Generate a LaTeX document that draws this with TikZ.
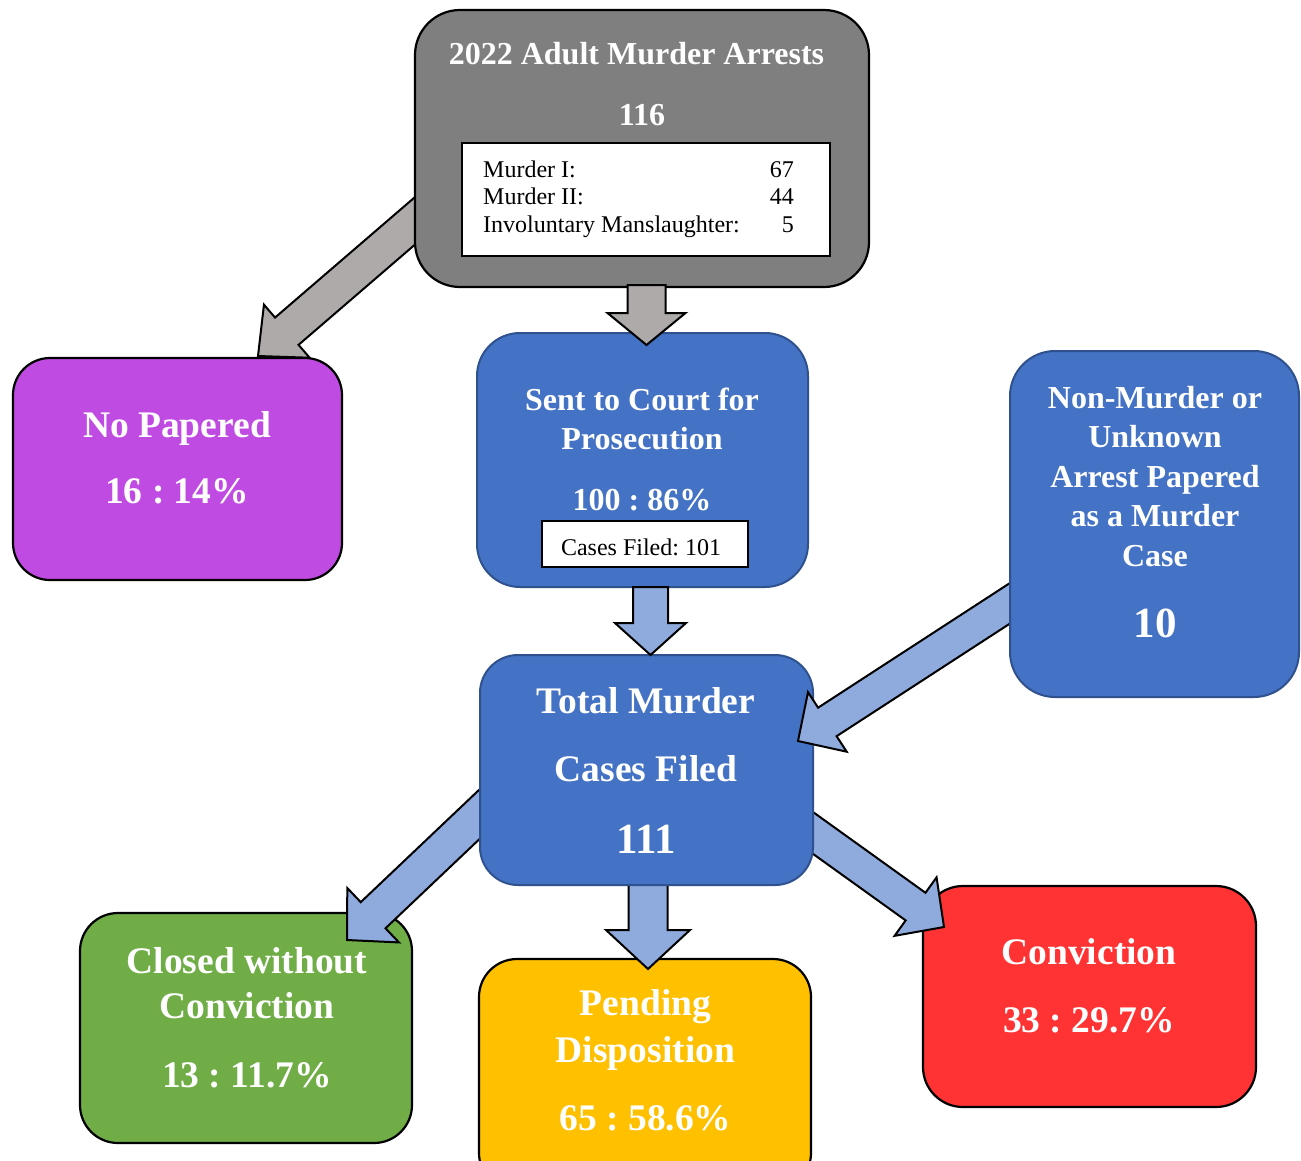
\documentclass[tikz,border=0pt]{standalone}
\usepackage{fontspec}
\setmainfont{Liberation Serif}
\usetikzlibrary{calc}
\definecolor{topgray}{HTML}{7F7F7F}
\definecolor{arrgray}{HTML}{AEAAAA}
\definecolor{npurple}{HTML}{C04BE2}
\definecolor{mblue}{HTML}{4472C4}
\definecolor{bborder}{HTML}{2F528F}
\definecolor{arrblue}{HTML}{8FAADC}
\definecolor{cgreen}{HTML}{70AD47}
\definecolor{pyellow}{HTML}{FFC000}
\definecolor{cred}{HTML}{FF3333}
\frenchspacing
\newcommand{\myfs}[1]{\fontsize{#1pt}{#1pt}\selectfont}
\newcommand{\blockarrow}[7]{%
  \coordinate (#1-h) at ($(#3)!#6!(#2)$);
  \draw[arrowline, fill=#7] ($(#2)!#4!90:(#3)$) -- ($(#1-h)!#4!90:(#3)$) -- ($(#1-h)!#5!90:(#3)$) -- (#3) -- ($(#1-h)!#5!-90:(#3)$) -- ($(#1-h)!#4!-90:(#3)$) -- ($(#2)!#4!-90:(#3)$) -- cycle;
}
\begin{document}
\begin{tikzpicture}[x=1pt,y=-1pt,
  roundbox/.style={rectangle, rounded corners=#1, inner sep=0pt, outer sep=0pt, line width=2.2pt, draw=black},
  bluebox/.style={rectangle, rounded corners=#1, inner sep=0pt, outer sep=0pt, line width=2pt, draw=bborder, fill=mblue},
  arrowline/.style={draw=black, line width=2pt, line join=miter},
  lbl/.style={text=white, anchor=base, inner sep=0pt},
  plain/.style={text=black, inner sep=0pt, font=\myfs{24}}]
\clip (0,0) rectangle (1301,1160);
\fill[white] (0,0) rectangle (1301,1160);

% ---- target boxes ----
\node[roundbox=37pt, fill=npurple, minimum width=329pt, minimum height=222pt] (nop) at (177.5,469) {};
\node[lbl, font=\bfseries\myfs{37.5}] (nop1) at (177,437) {No Papered};
\node[lbl, font=\bfseries\myfs{37.5}] (nop2) at (177,503) {16 : 14\%};

\node[roundbox=38pt, fill=cgreen, minimum width=332pt, minimum height=230pt] (closed) at (246,1028) {};
\node[lbl, font=\bfseries\myfs{37.5}] (cl1) at (247,973) {Closed without};
\node[lbl, font=\bfseries\myfs{37.5}] (cl2) at (247,1018) {Conviction};
\node[lbl, font=\bfseries\myfs{37.5}] (cl3) at (247,1087) {13 : 11.7\%};

\node[roundbox=38pt, fill=pyellow, minimum width=332pt, minimum height=232pt] (pend) at (645,1075) {};
\node[lbl, font=\bfseries\myfs{37.5}] (pe1) at (645.5,1015) {Pending};
\node[lbl, font=\bfseries\myfs{37.5}] (pe2) at (645.5,1062) {Disposition};
\node[lbl, font=\bfseries\myfs{37.5}] (pe3) at (645.5,1130) {65 : 58.6\%};

\node[roundbox=40pt, fill=cred, minimum width=333pt, minimum height=221pt] (conv) at (1089.5,996.5) {};
\node[lbl, font=\bfseries\myfs{37.5}] (cv1) at (1089,964) {Conviction};
\node[lbl, font=\bfseries\myfs{37.5}] (cv2) at (1089,1032) {33 : 29.7\%};

\node[bluebox=43pt, minimum width=331pt, minimum height=254pt] (sent) at (642.5,460) {};
\node[lbl, font=\bfseries\myfs{32}] (se1) at (642,410) {Sent to Court for};
\node[lbl, font=\bfseries\myfs{32}] (se2) at (642,449) {Prosecution};
\node[lbl, font=\bfseries\myfs{32}] (se3) at (642,510) {100 : 86\%};
\node[draw=black, line width=1.6pt, fill=white, minimum width=206pt, minimum height=46pt, inner sep=0pt] (cases) at (645,544) {};
\node[plain, anchor=base] (casest) at (641,555) {Cases Filed: 101};

% ---- arrows starting under their source boxes ----
\coordinate (a1s) at (438,201); \coordinate (a1e) at (258,356);
\coordinate (a5s) at (504,791); \coordinate (a5e) at (347,940);
\coordinate (a6s) at (648,870); \coordinate (a6e) at (648,969);
\coordinate (a7s) at (788,815); \coordinate (a7e) at (944,927);
\blockarrow{a1}{a1s}{a1e}{18pt}{35pt}{38pt}{arrgray}
\blockarrow{a5}{a5s}{a5e}{18pt}{37.5pt}{36pt}{arrblue}
\blockarrow{a6}{a6s}{a6e}{19.5pt}{42pt}{39pt}{arrblue}
\blockarrow{a7}{a7s}{a7e}{17pt}{36pt}{35pt}{arrblue}

% ---- top box ----
\node[roundbox=45pt, fill=topgray, minimum width=454pt, minimum height=277pt] (top) at (642,148.5) {};
\node[lbl, font=\bfseries\myfs{32}] (tp1) at (636.5,64) {2022 Adult Murder Arrests};
\node[lbl, font=\bfseries\myfs{32}] (tp2) at (642,125) {116};
\node[draw=black, line width=1.6pt, fill=white, minimum width=368pt, minimum height=113pt, inner sep=0pt] (list) at (646,199.5) {};
\node[plain, anchor=base west] (l1) at (483,177) {Murder I:};
\node[plain, anchor=base west] (l2) at (483,204.5) {Murder II:};
\node[plain, anchor=base west] (l3) at (483,232) {Involuntary Manslaughter:};
\node[plain, anchor=base east] (n1) at (794,177) {67};
\node[plain, anchor=base east] (n2) at (794,204.5) {44};
\node[plain, anchor=base east] (n3) at (794,232) {5};

% ---- total box ----
\node[bluebox=38pt, minimum width=333pt, minimum height=230pt] (total) at (646.5,770) {};
\node[lbl, font=\bfseries\myfs{37.5}] (to1) at (646,713) {Total Murder};
\node[lbl, font=\bfseries\myfs{37.5}] (to2) at (646,781) {Cases Filed};
\node[lbl, font=\bfseries\myfs{43}] (to3) at (646,853) {111};

% ---- remaining arrows ----
\coordinate (a2s) at (646.5,285); \coordinate (a2e) at (646.5,345);
\coordinate (a3s) at (650.5,587); \coordinate (a3e) at (650.5,655);
\coordinate (a4s) at (1035,587); \coordinate (a4e) at (798,741);
\blockarrow{a2}{a2s}{a2e}{19pt}{39pt}{32pt}{arrgray}
\blockarrow{a3}{a3s}{a3e}{17.5pt}{35.5pt}{32pt}{arrblue}
\blockarrow{a4}{a4s}{a4e}{17pt}{35.5pt}{35pt}{arrblue}

% ---- non-murder box ----
\node[bluebox=45pt, minimum width=289pt, minimum height=346pt] (nm) at (1154.5,524) {};
\node[lbl, font=\bfseries\myfs{32}] (nm1) at (1155,408) {Non-Murder or};
\node[lbl, font=\bfseries\myfs{32}] (nm2) at (1155,447) {Unknown};
\node[lbl, font=\bfseries\myfs{32}] (nm3) at (1155,487) {Arrest Papered};
\node[lbl, font=\bfseries\myfs{32}] (nm4) at (1155,526) {as a Murder};
\node[lbl, font=\bfseries\myfs{32}] (nm5) at (1155,566) {Case};
\node[lbl, font=\bfseries\myfs{43}] (nm6) at (1155,637) {10};
\end{tikzpicture}
\end{document}
